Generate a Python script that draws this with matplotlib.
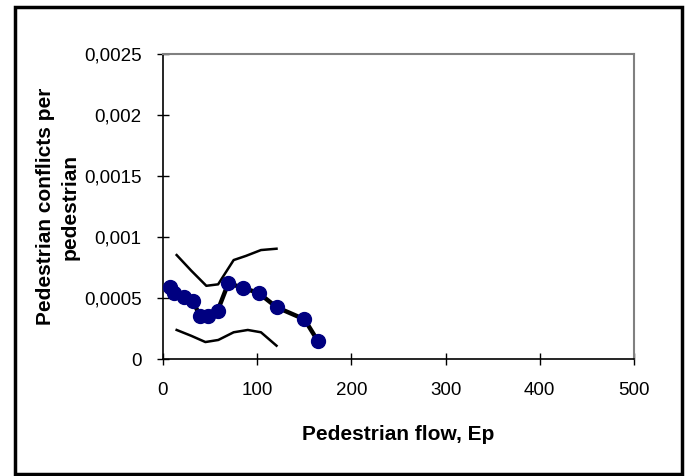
import matplotlib
matplotlib.use("Agg")
import matplotlib.pyplot as plt
from matplotlib.patches import Rectangle

plt.rcParams['font.family'] = ['Liberation Sans', 'DejaVu Sans']

# observed conflicts per pedestrian
flow = [7.4, 12, 22.6, 31.5, 39.3, 48, 58, 69.3, 85.2, 102, 120.7, 150.2, 164.6]
conflicts = [0.000588, 0.000538, 0.000511, 0.000478, 0.000352, 0.000352, 0.000396,
             0.00062, 0.000584, 0.000538, 0.000424, 0.000325, 0.000145]

# upper / lower bounds
band_x = [14.5, 30, 46, 58.5, 75, 88, 104, 120.5]
upper = [0.000852, 0.000724, 0.0006, 0.000612, 0.000811, 0.000845, 0.000893, 0.000904]
lower_x = [14.5, 30, 45, 58.7, 75, 90, 104, 120.5]
lower = [0.000238, 0.00019, 0.000139, 0.000156, 0.000219, 0.000238, 0.000219, 0.000109]

yticks = [0, 0.0005, 0.001, 0.0015, 0.002, 0.0025]
ytick_labels = ['0', '0,0005', '0,001', '0,0015', '0,002', '0,0025']
xticks = [0, 100, 200, 300, 400, 500]

fig = plt.figure(figsize=(6.85, 4.76), dpi=100)
ax = fig.add_axes([163/685, 1-359/476, (634-163)/685, (359-54)/476])

ax.plot(band_x, upper, color='black', lw=1.8)
ax.plot(lower_x, lower, color='black', lw=1.8)
ax.plot(flow, conflicts, color='black', lw=3.2, marker='o', markersize=10,
        markerfacecolor='#000080', markeredgecolor='#000080', zorder=3)

ax.set_xlim(0, 500)
ax.set_ylim(0, 0.0025)
ax.set_xticks(xticks)
ax.set_xticklabels([str(v) for v in xticks])
ax.set_yticks(yticks)
ax.set_yticklabels(ytick_labels)
ax.tick_params(direction='inout', length=9, width=1, labelsize=13.5, color='black')
ax.tick_params(axis='x', pad=12)
ax.tick_params(axis='y', pad=11)

for side in ('top', 'right'):
    ax.spines[side].set_color('#808080')
    ax.spines[side].set_linewidth(1.5)
for side in ('left', 'bottom'):
    ax.spines[side].set_color('black')
    ax.spines[side].set_linewidth(1.2)

ax.set_xlabel('Pedestrian flow, Ep', fontsize=15, fontweight='bold', va='center')
ax.xaxis.set_label_coords(0.5, (359-435)/305)
ax.set_ylabel('Pedestrian conflicts per\npedestrian', fontsize=15, fontweight='bold',
              va='center', linespacing=1.4)
ax.yaxis.set_label_coords((58-163)/471, 0.5)

fig.patches.append(Rectangle((15/685, 1-474/476), (682-15)/685, (474-7)/476,
                             transform=fig.transFigure, fill=False,
                             edgecolor='black', linewidth=2.5))

fig.savefig('out.png', dpi=100)
